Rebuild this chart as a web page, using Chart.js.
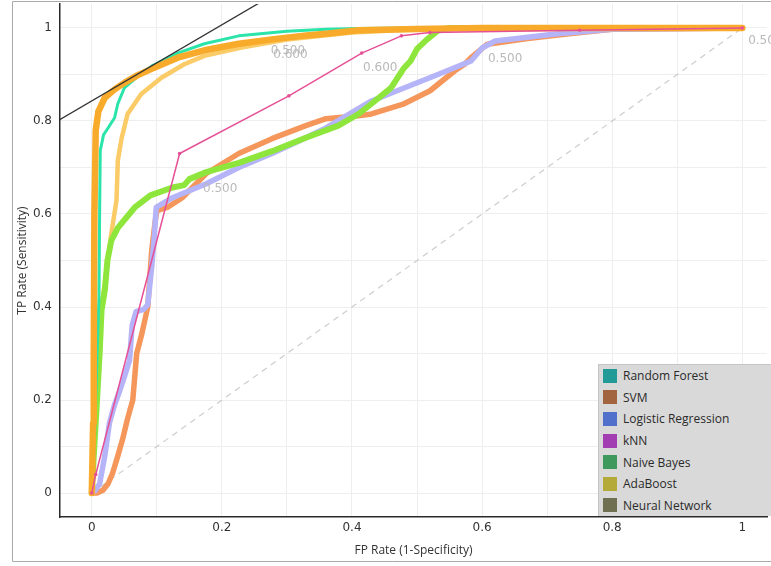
<!DOCTYPE html>
<html>
<head>
<meta charset="utf-8">
<script src="https://cdn.jsdelivr.net/npm/chart.js@4.4.1/dist/chart.umd.min.js"></script>
<style>
  html, body { margin: 0; padding: 0; background: #fff; overflow: hidden; }
  #wrap { position: relative; width: 771px; height: 566px; overflow: hidden; }
  #legend { position: absolute; left: 598px; top: 364px; width: 200px; height: 152px;
            background: #d9d9d9; border-left: 1px solid #c4c4c4; border-top: 1px solid #c4c4c4;
            font-family: "Open Sans", sans-serif; font-size: 12px; color: #2a2a2a; box-sizing: border-box; }
  .row { height: 21.6px; display: flex; align-items: center; }
  .sw { width: 14px; height: 14px; margin-left: 4px; margin-right: 6px; }
</style>
</head>
<body>
<div id="wrap">
  <canvas id="roc" width="771" height="566"></canvas>
  <div id="legend"></div>
</div>
<script>
// ROC curves (FP rate, TP rate)
const rfFpr = [0, 0.004, 0.008, 0.011, 0.012, 0.013, 0.018, 0.025, 0.035, 0.04, 0.05, 0.07, 0.092, 0.132, 0.173, 0.226, 0.3, 0.36, 0.41, 0.5, 0.7, 1];
const rfTpr = [0, 0.1, 0.3, 0.42, 0.6, 0.736, 0.77, 0.785, 0.807, 0.837, 0.871, 0.895, 0.918, 0.946, 0.966, 0.983, 0.993, 0.997, 0.999, 1, 1, 1];

const svmFpr = [0, 0.008, 0.017, 0.025, 0.032, 0.04, 0.047, 0.055, 0.063, 0.069, 0.077, 0.086, 0.092, 0.097, 0.1, 0.116, 0.139, 0.176, 0.226, 0.277, 0.329, 0.36, 0.41, 0.43, 0.48, 0.52, 0.558, 0.573, 0.583, 0.608, 0.67, 0.73, 0.8, 1];
const svmTpr = [0, 0, 0.006, 0.02, 0.043, 0.08, 0.114, 0.16, 0.2, 0.3, 0.343, 0.4, 0.52, 0.58, 0.607, 0.614, 0.635, 0.687, 0.73, 0.762, 0.79, 0.805, 0.811, 0.815, 0.837, 0.865, 0.908, 0.922, 0.936, 0.965, 0.977, 0.987, 0.997, 1];

const lrFpr = [0, 0.005, 0.012, 0.02, 0.027, 0.035, 0.043, 0.05, 0.058, 0.062, 0.068, 0.08, 0.086, 0.092, 0.096, 0.099, 0.124, 0.176, 0.226, 0.277, 0.329, 0.36, 0.43, 0.48, 0.532, 0.583, 0.6, 0.62, 0.67, 0.72, 0.8, 1];
const lrTpr = [0, 0.005, 0.02, 0.08, 0.15, 0.19, 0.22, 0.25, 0.285, 0.36, 0.39, 0.395, 0.405, 0.485, 0.55, 0.614, 0.635, 0.665, 0.7, 0.73, 0.764, 0.785, 0.843, 0.871, 0.9, 0.929, 0.957, 0.972, 0.98, 0.988, 0.997, 1];

const knnFpr = [0, 0.006, 0.135, 0.303, 0.415, 0.476, 0.52, 0.75, 1];
const knnTpr = [0, 0.04, 0.73, 0.854, 0.946, 0.983, 0.99, 0.995, 1];

const nbFpr = [0, 0.003, 0.008, 0.012, 0.015, 0.02, 0.024, 0.03, 0.04, 0.066, 0.09, 0.124, 0.142, 0.15, 0.176, 0.226, 0.277, 0.329, 0.379, 0.41, 0.43, 0.46, 0.48, 0.49, 0.5, 0.515, 0.532, 0.55, 0.7, 1];
const nbTpr = [0, 0.08, 0.2, 0.3, 0.393, 0.436, 0.5, 0.543, 0.57, 0.614, 0.64, 0.657, 0.662, 0.675, 0.69, 0.71, 0.735, 0.764, 0.79, 0.815, 0.837, 0.871, 0.914, 0.929, 0.955, 0.975, 0.994, 1, 1, 1];

const adaFpr = [0, 0.004, 0.008, 0.012, 0.02, 0.03, 0.038, 0.04, 0.046, 0.055, 0.076, 0.107, 0.142, 0.173, 0.23, 0.3, 0.4, 0.5, 0.7, 1];
const adaTpr = [0, 0.1, 0.25, 0.378, 0.45, 0.558, 0.63, 0.715, 0.764, 0.815, 0.858, 0.893, 0.922, 0.94, 0.958, 0.975, 0.99, 0.997, 1, 1];

const nnFpr = [0, 0.002, 0.003, 0.004, 0.006, 0.01, 0.02, 0.035, 0.05, 0.07, 0.092, 0.132, 0.173, 0.226, 0.28, 0.33, 0.364, 0.41, 0.5, 0.6, 0.8, 1];
const nnTpr = [0, 0.15, 0.3, 0.6, 0.78, 0.82, 0.85, 0.868, 0.882, 0.898, 0.912, 0.936, 0.952, 0.966, 0.976, 0.984, 0.988, 0.995, 0.998, 1, 1, 1];

// chance diagonal and the iso-performance tangent
const diagFpr = [0, 1];
const diagTpr = [0, 1];
const tangentFpr = [-0.06, 0.32];
const tangentTpr = [0.794, 1.105];

const seriesNames = ["Random Forest", "SVM", "Logistic Regression", "kNN", "Naive Bayes", "AdaBoost", "Neural Network"];
const legendColors = ["#229a98", "#a2643f", "#5170cc", "#a33db2", "#3d9a5c", "#b4aa3a", "#6f6f52"];
const lineColors = ["#2ae4aa", "#f5965a", "#b6b4f8", "#e65096", "#8ee63c", "#facb66", "#f8aa2a"];

// threshold labels shown near the curves
const thresholdText = ["0.500", "0.600", "0.600", "0.500", "0.500", "0.500"];
const thresholdFpr = [0.275, 0.279, 0.417, 0.609, 0.171, 1.009];
const thresholdTpr = [0.951, 0.943, 0.914, 0.933, 0.655, 0.972];

const gridTicks = [0, 0.1, 0.2, 0.3, 0.4, 0.5, 0.6, 0.7, 0.8, 0.9, 1];

const pts = (xs, ys) => xs.map((x, i) => ({ x: x, y: ys[i] }));

const tickLabel = (v) => {
    const r = Math.round(v * 10);
    if (Math.abs(v * 10 - r) > 1e-6 || r % 2 !== 0 || r < 0 || r > 10) return '';
    return String(r / 10);
};

// drop the automatic label padding so the plot area sits exactly where the layout says
const noPad = (s) => {
    s.paddingLeft = 0; s.paddingRight = 0; s.paddingTop = 0; s.paddingBottom = 0;
};

const curve = (i, xs, ys, width, order) => ({
    label: seriesNames[i],
    data: pts(xs, ys),
    showLine: true,
    borderColor: lineColors[i],
    backgroundColor: lineColors[i],
    borderWidth: width,
    pointRadius: 0,
    borderJoinStyle: 'round',
    borderCapStyle: 'round',
    tension: 0,
    order: order
});

const knn = curve(3, knnFpr, knnTpr, 1.5, 1);
knn.pointRadius = 1.8;
knn.pointBorderWidth = 0;

// thin widget frame (left, top and bottom edges)
const framePlugin = {
    id: 'frame',
    beforeDraw(chart) {
        const c = chart.ctx;
        c.save();
        c.strokeStyle = '#a9a9a9';
        c.lineWidth = 1;
        c.beginPath();
        c.moveTo(chart.width + 5, 1.5);
        c.lineTo(12.5, 1.5);
        c.lineTo(12.5, 561.5);
        c.lineTo(chart.width + 5, 561.5);
        c.stroke();
        c.restore();
    }
};

const thresholdPlugin = {
    id: 'thresholds',
    afterDatasetsDraw(chart) {
        const c = chart.ctx;
        const xs = chart.scales.x, ys = chart.scales.y;
        c.save();
        c.font = '12px "DejaVu Sans"';
        c.fillStyle = '#b9b9b9';
        c.textAlign = 'left';
        c.textBaseline = 'middle';
        thresholdText.forEach((t, i) => {
            c.fillText(t, xs.getPixelForValue(thresholdFpr[i]), ys.getPixelForValue(thresholdTpr[i]));
        });
        c.restore();
    }
};

const ctx = document.getElementById("roc");
new Chart(ctx, {
    type: "scatter",
    data: {
        datasets: [
            {
                label: "tangent",
                data: pts(tangentFpr, tangentTpr),
                showLine: true,
                borderColor: '#333333',
                borderWidth: 1.3,
                pointRadius: 0,
                order: 0
            },
            knn,
            curve(6, nnFpr, nnTpr, 6.5, 2),
            curve(0, rfFpr, rfTpr, 3, 3),
            curve(4, nbFpr, nbTpr, 6, 4),
            curve(5, adaFpr, adaTpr, 4.5, 5),
            curve(2, lrFpr, lrTpr, 5.5, 6),
            curve(1, svmFpr, svmTpr, 5.5, 7),
            {
                label: "diagonal",
                data: pts(diagFpr, diagTpr),
                showLine: true,
                borderColor: '#cdcdcd',
                borderWidth: 1.2,
                borderDash: [6, 5],
                pointRadius: 0,
                order: 8
            }
        ]
    },
    options: {
        responsive: false,
        devicePixelRatio: 1,
        animation: false,
        events: [],
        layout: { padding: { left: 12, top: 3, right: 0, bottom: 0 } },
        plugins: {
            legend: { display: false },
            tooltip: { enabled: false }
        },
        scales: {
            x: {
                type: 'linear',
                min: -0.0489,
                max: 1.038,
                afterFit: (s) => { s.height = 49; noPad(s); },
                afterBuildTicks: (s) => { s.ticks = gridTicks.map(v => ({ value: v })); },
                grid: { color: '#eeeeee', drawTicks: false },
                border: { color: '#2a2a2a', width: 1.5 },
                ticks: {
                    callback: tickLabel,
                    autoSkip: false,
                    maxRotation: 0,
                    padding: 4,
                    color: '#333',
                    font: { family: 'DejaVu Sans', size: 12 }
                },
                title: {
                    display: true,
                    text: 'FP Rate (1-Specificity)',
                    color: '#333',
                    padding: { top: 0, bottom: 8 },
                    font: { family: 'Open Sans', size: 12 }
                }
            },
            y: {
                type: 'linear',
                min: -0.0515,
                max: 1.0515,
                afterFit: (s) => { s.width = 48; noPad(s); },
                afterBuildTicks: (s) => { s.ticks = gridTicks.map(v => ({ value: v })); },
                grid: { color: '#eeeeee', drawTicks: false },
                border: { color: '#2a2a2a', width: 1.5 },
                ticks: {
                    callback: tickLabel,
                    autoSkip: false,
                    padding: 8,
                    color: '#333',
                    font: { family: 'DejaVu Sans', size: 12 }
                },
                title: {
                    display: true,
                    text: 'TP Rate (Sensitivity)',
                    color: '#333',
                    padding: { top: 3, bottom: 0 },
                    font: { family: 'Open Sans', size: 12 }
                }
            }
        }
    },
    plugins: [framePlugin, thresholdPlugin]
});

// legend box in the lower right corner
const legendBox = document.getElementById('legend');
seriesNames.forEach((name, i) => {
    const row = document.createElement('div');
    row.className = 'row';
    row.innerHTML = '<span class="sw" style="background:' + legendColors[i] + '"></span><span>' + name + '</span>';
    legendBox.appendChild(row);
});
</script>
</body>
</html>
